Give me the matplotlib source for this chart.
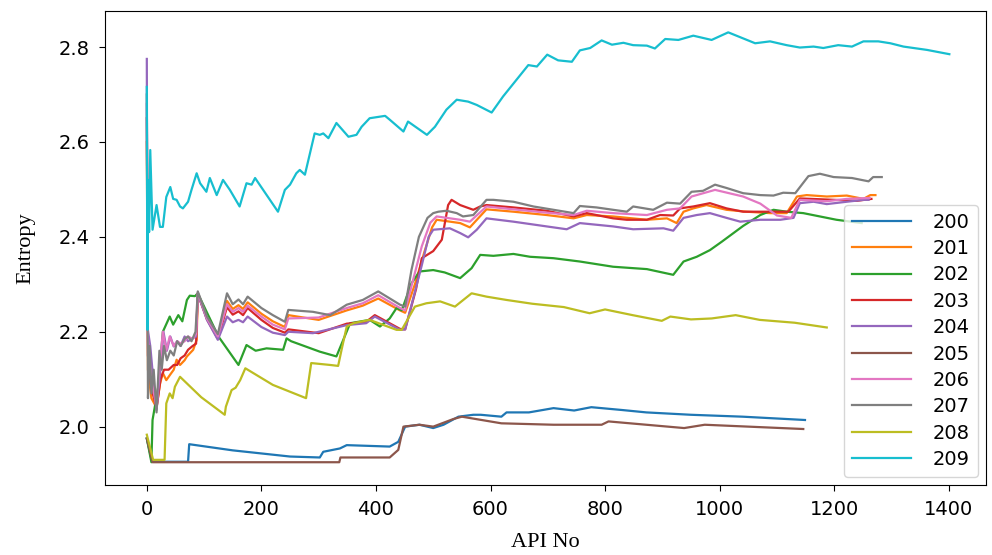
import matplotlib
matplotlib.use("Agg")
import matplotlib.pyplot as plt

# series values (API No, entropy)
x200 = [0, 9, 72, 74, 150, 250, 302, 308, 337, 349, 424, 439, 451, 476, 500, 518, 544, 570, 583, 619,
        628, 667, 710, 746, 776, 830, 872, 950, 1040, 1149]
y200 = [1.975, 1.926, 1.926, 1.963, 1.950, 1.937, 1.935, 1.947, 1.954, 1.961, 1.958, 1.968, 2.000, 2.004,
        1.997, 2.004, 2.021, 2.025, 2.025, 2.021, 2.030, 2.030, 2.039, 2.034, 2.041, 2.035, 2.030, 2.025,
        2.021, 2.014]

x201 = [0, 2, 8, 17, 23, 28, 34, 41, 47, 52, 58, 66, 70, 81, 87, 89, 105, 124, 140, 150, 160, 168, 176,
        200, 220, 241, 247, 300, 349, 377, 404, 442, 451, 468, 485, 498, 506, 547, 564, 593, 640, 698,
        745, 768, 814, 873, 908, 925, 937, 954, 977, 1012, 1047, 1088, 1117, 1135, 1152, 1187, 1222,
        1251, 1263, 1272]
y201 = [2.60, 2.12, 2.06, 2.04, 2.09, 2.113, 2.098, 2.11, 2.12, 2.141, 2.13, 2.14, 2.148, 2.162, 2.183,
        2.28, 2.228, 2.19, 2.265, 2.248, 2.256, 2.248, 2.262, 2.238, 2.222, 2.21, 2.235, 2.225, 2.245,
        2.255, 2.27, 2.245, 2.24, 2.30, 2.37, 2.42, 2.436, 2.429, 2.420, 2.458, 2.453, 2.446, 2.439,
        2.446, 2.443, 2.436, 2.439, 2.429, 2.453, 2.46, 2.467, 2.457, 2.453, 2.450, 2.450, 2.485, 2.488,
        2.485, 2.487, 2.480, 2.488, 2.488]

x202 = [0, 8, 10, 20, 28, 40, 46, 55, 62, 70, 75, 84, 89, 125, 160, 174, 190, 209, 238, 244, 252, 302,
        331, 343, 355, 389, 407, 424, 436, 445, 462, 476, 500, 520, 547, 567, 582, 605, 640, 669, 710,
        756, 814, 873, 919, 937, 960, 983, 1004, 1041, 1071, 1094, 1117, 1146, 1204, 1248]
y202 = [1.975, 1.925, 2.014, 2.084, 2.200, 2.232, 2.215, 2.235, 2.222, 2.267, 2.276, 2.275, 2.281, 2.190,
        2.130, 2.172, 2.160, 2.165, 2.162, 2.186, 2.180, 2.158, 2.148, 2.183, 2.218, 2.225, 2.211, 2.228,
        2.250, 2.245, 2.302, 2.327, 2.330, 2.325, 2.313, 2.334, 2.362, 2.360, 2.364, 2.358, 2.355, 2.348,
        2.337, 2.332, 2.320, 2.348, 2.358, 2.372, 2.390, 2.423, 2.446, 2.457, 2.453, 2.450, 2.436, 2.429]

x203 = [0, 2, 8, 17, 24, 30, 38, 47, 53, 59, 66, 72, 80, 86, 89, 105, 124, 140, 150, 160, 168, 176, 200,
        220, 241, 247, 300, 349, 383, 398, 442, 451, 470, 480, 500, 515, 526, 532, 547, 570, 582, 593,
        640, 698, 745, 768, 814, 838, 873, 896, 919, 931, 954, 983, 1012, 1041, 1071, 1100, 1120, 1140,
        1160, 1200, 1240, 1265]
y203 = [2.65, 2.15, 2.08, 2.04, 2.10, 2.12, 2.12, 2.13, 2.13, 2.144, 2.15, 2.162, 2.17, 2.175, 2.28,
        2.226, 2.185, 2.252, 2.236, 2.243, 2.235, 2.25, 2.225, 2.208, 2.198, 2.205, 2.197, 2.217, 2.221,
        2.235, 2.206, 2.205, 2.29, 2.355, 2.37, 2.394, 2.467, 2.478, 2.467, 2.457, 2.464, 2.467, 2.462,
        2.455, 2.443, 2.450, 2.439, 2.436, 2.436, 2.446, 2.445, 2.46, 2.464, 2.471, 2.46, 2.453, 2.453,
        2.453, 2.453, 2.481, 2.48, 2.478, 2.476, 2.48]

x204 = [0, 1, 6, 12, 17, 22, 26, 29, 35, 41, 47, 53, 59, 66, 72, 80, 86, 89, 105, 124, 140, 150, 160,
        168, 176, 200, 220, 241, 247, 290, 349, 383, 398, 442, 451, 465, 480, 492, 500, 529, 547, 561,
        576, 593, 640, 698, 733, 756, 814, 849, 902, 919, 937, 960, 983, 1012, 1036, 1071, 1106, 1129,
        1140, 1164, 1187, 1222, 1251, 1260]
y204 = [2.775, 2.21, 2.17, 2.09, 2.035, 2.10, 2.148, 2.20, 2.16, 2.19, 2.169, 2.18, 2.17, 2.19, 2.18,
        2.186, 2.19, 2.28, 2.225, 2.183, 2.232, 2.22, 2.225, 2.22, 2.232, 2.21, 2.198, 2.193, 2.200,
        2.197, 2.214, 2.218, 2.232, 2.204, 2.205, 2.27, 2.34, 2.40, 2.415, 2.418, 2.408, 2.399, 2.415,
        2.439, 2.432, 2.422, 2.416, 2.429, 2.422, 2.416, 2.418, 2.413, 2.44, 2.446, 2.450, 2.44, 2.432,
        2.436, 2.436, 2.440, 2.471, 2.474, 2.469, 2.474, 2.478, 2.478]

x205 = [0, 10, 336, 338, 424, 439, 448, 476, 500, 535, 550, 619, 710, 794, 806, 938, 974, 1146]
y205 = [1.975, 1.925, 1.925, 1.935, 1.935, 1.951, 2.0, 2.004, 2.0, 2.016, 2.021, 2.007, 2.004, 2.004,
        2.011, 1.997, 2.004, 1.995]

x206 = [0, 2, 8, 17, 22, 28, 34, 40, 47, 53, 59, 66, 72, 80, 86, 89, 105, 124, 140, 150, 160, 168, 176,
        200, 220, 241, 247, 300, 349, 377, 404, 442, 451, 465, 480, 495, 506, 547, 564, 593, 640, 698,
        745, 768, 814, 873, 908, 931, 951, 992, 1041, 1071, 1100, 1125, 1140, 1187, 1222, 1262]
y206 = [2.68, 2.18, 2.10, 2.04, 2.12, 2.20, 2.16, 2.19, 2.17, 2.18, 2.175, 2.18, 2.19, 2.185, 2.195,
        2.283, 2.228, 2.19, 2.258, 2.242, 2.25, 2.242, 2.255, 2.232, 2.215, 2.205, 2.228, 2.23, 2.25,
        2.26, 2.277, 2.25, 2.245, 2.31, 2.38, 2.43, 2.443, 2.436, 2.432, 2.464, 2.458, 2.451, 2.446,
        2.455, 2.450, 2.446, 2.457, 2.46, 2.485, 2.499, 2.485, 2.47, 2.445, 2.44, 2.478, 2.475, 2.48,
        2.482]

x207 = [0, 2, 5, 8, 12, 17, 22, 26, 30, 35, 41, 47, 53, 59, 66, 72, 78, 85, 89, 105, 124, 140, 150, 160,
        168, 176, 200, 220, 241, 247, 290, 320, 349, 377, 404, 442, 451, 462, 475, 490, 500, 509, 523,
        541, 552, 570, 593, 605, 640, 675, 710, 745, 756, 785, 814, 838, 849, 884, 908, 931, 951, 971,
        992, 1012, 1041, 1071, 1094, 1111, 1132, 1155, 1175, 1199, 1231, 1260, 1268, 1283]
y207 = [2.70, 2.06, 2.17, 2.07, 2.12, 2.03, 2.16, 2.12, 2.17, 2.14, 2.16, 2.15, 2.18, 2.17, 2.185, 2.19,
        2.18, 2.20, 2.285, 2.232, 2.195, 2.281, 2.258, 2.268, 2.258, 2.274, 2.25, 2.235, 2.221, 2.246,
        2.242, 2.235, 2.257, 2.267, 2.285, 2.257, 2.253, 2.33, 2.40, 2.44, 2.450, 2.453, 2.455, 2.45,
        2.443, 2.446, 2.478, 2.478, 2.474, 2.464, 2.457, 2.450, 2.465, 2.462, 2.457, 2.453, 2.464, 2.457,
        2.472, 2.470, 2.495, 2.497, 2.510, 2.503, 2.492, 2.488, 2.487, 2.493, 2.492, 2.528, 2.533, 2.526,
        2.524, 2.517, 2.526, 2.526]

x208 = [0, 11, 31, 34, 40, 45, 49, 58, 95, 136, 138, 148, 155, 163, 172, 220, 278, 287, 320, 334, 340,
        349, 361, 389, 436, 445, 468, 488, 512, 538, 567, 593, 628, 673, 728, 773, 800, 848, 899, 914,
        950, 986, 1028, 1070, 1131, 1187]
y208 = [1.983, 1.930, 1.930, 2.049, 2.070, 2.060, 2.084, 2.105, 2.062, 2.025, 2.042, 2.077, 2.082, 2.098,
        2.123, 2.088, 2.060, 2.134, 2.130, 2.128, 2.162, 2.211, 2.218, 2.225, 2.204, 2.204, 2.253, 2.260,
        2.264, 2.253, 2.281, 2.274, 2.267, 2.259, 2.252, 2.239, 2.247, 2.235, 2.223, 2.232, 2.226, 2.228,
        2.235, 2.225, 2.219, 2.209]

x209 = [0, 1, 2, 4, 6, 10, 17, 23, 28, 34, 41, 46, 52, 58, 63, 72, 78, 87, 93, 104, 110, 122, 133, 145,
        162, 174, 183, 189, 229, 241, 250, 261, 267, 276, 293, 302, 308, 317, 331, 352, 366, 375, 389,
        416, 424, 448, 456, 489, 503, 523, 541, 561, 576, 602, 622, 666, 681, 699, 718, 742, 756, 774,
        794, 812, 832, 849, 873, 887, 905, 928, 954, 986, 1015, 1062, 1088, 1117, 1140, 1164, 1181, 1207,
        1231, 1251, 1277, 1298, 1321, 1362, 1401]
y209 = [2.716, 2.204, 2.52, 2.41, 2.583, 2.415, 2.467, 2.421, 2.421, 2.484, 2.505, 2.480, 2.478, 2.464,
        2.460, 2.474, 2.499, 2.534, 2.513, 2.495, 2.524, 2.488, 2.520, 2.499, 2.464, 2.513, 2.510, 2.524,
        2.453, 2.499, 2.510, 2.534, 2.541, 2.531, 2.618, 2.615, 2.618, 2.608, 2.640, 2.611, 2.615, 2.632,
        2.650, 2.655, 2.647, 2.622, 2.643, 2.615, 2.632, 2.668, 2.689, 2.685, 2.678, 2.662, 2.696, 2.762,
        2.759, 2.784, 2.772, 2.769, 2.793, 2.798, 2.814, 2.805, 2.809, 2.804, 2.803, 2.797, 2.817, 2.815,
        2.824, 2.815, 2.831, 2.808, 2.812, 2.804, 2.799, 2.801, 2.798, 2.804, 2.801, 2.812, 2.812, 2.808,
        2.801, 2.794, 2.785]

labels = ['200', '201', '202', '203', '204', '205', '206', '207', '208', '209']
xs = [x200, x201, x202, x203, x204, x205, x206, x207, x208, x209]
ys = [y200, y201, y202, y203, y204, y205, y206, y207, y208, y209]

x_ticks = [0, 200, 400, 600, 800, 1000, 1200, 1400]
y_ticks = [2.0, 2.2, 2.4, 2.6, 2.8]

fig = plt.figure(figsize=(9.92, 5.55), dpi=100)
ax = fig.add_axes([105 / 992, 70 / 555, 881 / 992, 474 / 555])

for xv, yv, lab in zip(xs, ys, labels):
    ax.plot(xv, yv, lw=1.6, label=lab)

ax.set_xlim(-73, 1465)
ax.set_ylim(1.877, 2.876)
ax.set_xticks(x_ticks)
ax.set_yticks(y_ticks)
ax.tick_params(labelsize=14, length=4.5, pad=6.5)

ax.set_xlabel('API No', family='Liberation Serif', fontsize=16)
ax.set_ylabel('Entropy', family='Liberation Serif', fontsize=16)
ax.xaxis.set_label_coords(0.5, -0.102)
ax.yaxis.set_label_coords(-0.079, 0.5)

# legend sized to the reference box (about 842..978 px wide)
ax.legend(loc='lower right', fontsize=14, handlelength=3.0, handletextpad=1.15,
          labelspacing=0.38, borderaxespad=0.42)

fig.savefig('out.png', dpi=100)
